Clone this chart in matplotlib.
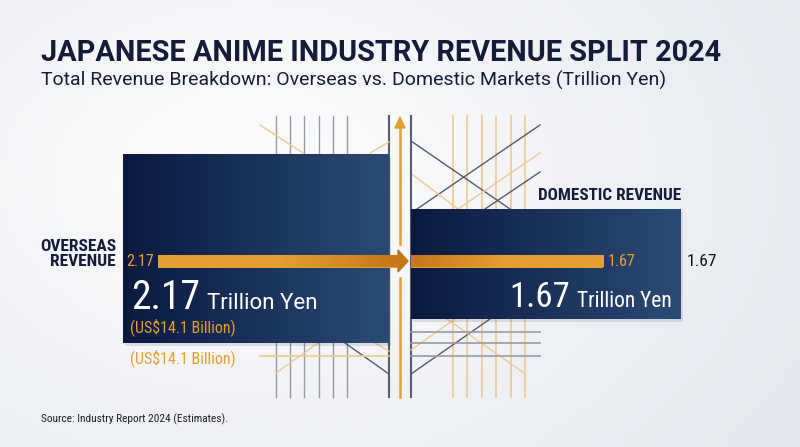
import numpy as np
import matplotlib
matplotlib.use("Agg")
import matplotlib.pyplot as plt
from matplotlib import font_manager
from matplotlib.colors import LinearSegmentedColormap
from matplotlib.patches import Polygon, Rectangle

# --- DATA ---
markets = ["Overseas", "Domestic"]
revenue_tn_yen = [2.17, 1.67]
revenue_usd_label = ["(US$14.1 Billion)", None]
market_labels = ["OVERSEAS\nREVENUE", "DOMESTIC REVENUE"]

TITLE = "JAPANESE ANIME INDUSTRY REVENUE SPLIT 2024"
SUBTITLE = "Total Revenue Breakdown: Overseas vs. Domestic Markets (Trillion Yen)"
SOURCE = "Source: Industry Report 2024 (Estimates)."

# --- STYLE ---
NAVY_TXT = "#141c3a"
ORANGE = "#e5a034"
ORANGE_DK = "#c4771b"
names = {f.name for f in font_manager.fontManager.ttflist}
COND = "Roboto Condensed" if "Roboto Condensed" in names else "Roboto"
BASE = "Roboto"

fig = plt.figure(figsize=(8, 4.47), dpi=100)
ax = fig.add_axes([0, 0, 1, 1])
W, H = 800, 447


def reset():
    ax.set_xlim(0, W)
    ax.set_ylim(H, 0)


# background gradient
yy, xx = np.mgrid[0:H:4, 0:W:4]
glow = np.exp(-(((xx - 250) / 420.0) ** 2 + ((yy - 180) / 300.0) ** 2))
bg_cmap = LinearSegmentedColormap.from_list("bg", ["#e5e9ef", "#fbfbfc"])
ax.imshow(glow, cmap=bg_cmap, extent=(0, W, H, 0), aspect="auto", zorder=0)
reset()

# decorative grid lines behind the panels
GRAY = "#979ba6"
DARK = "#545b70"
LORANGE = "#edca92"
for x in [276, 290, 304, 319, 333, 347]:
    ax.plot([x, x], [116, 397], color=GRAY, lw=1.0, zorder=1)
for x in [453, 467, 482, 496, 511, 525]:
    ax.plot([x, x], [116, 397], color=LORANGE, lw=1.2, zorder=1)
for x in [389, 411]:
    ax.plot([x, x], [116, 397], color=DARK, lw=1.5, zorder=1)

diag = [
    ((260, 125), (303, 153), LORANGE), ((370, 153), (389, 142), LORANGE),
    ((411, 141), (510, 209), DARK), ((417, 209), (540, 125), DARK),
    ((485, 209), (540, 172), DARK), ((413, 175), (458, 209), LORANGE),
    ((458, 209), (540, 153), LORANGE),
    ((276, 373), (318, 343), LORANGE), ((345, 343), (389, 374), DARK),
    ((375, 343), (389, 351), LORANGE),
    ((411, 374), (490, 319), DARK), ((447, 319), (524, 373), LORANGE),
    ((411, 350), (455, 319), LORANGE),
]
for p0, p1, c in diag:
    ax.plot([p0[0], p1[0]], [p0[1], p1[1]], color=c, lw=1.0, zorder=1)
ax.plot([260, 389], [356, 356], color=LORANGE, lw=1.2, zorder=1)
for y in [332, 343, 356]:
    ax.plot([411, 540], [y, y], color=GRAY, lw=1.2, zorder=1)

# vertical orange arrow in the middle
ax.plot([400, 400], [125, 244], color=ORANGE, lw=1.8, zorder=2)
ax.plot([400, 400], [278, 397], color=ORANGE, lw=1.8, zorder=2)
ax.add_patch(Polygon([(395, 128), (405, 128), (400, 117)], color=ORANGE, zorder=2))

# navy panels
navy = LinearSegmentedColormap.from_list("navy", ["#0b1940", "#1a3259", "#2c4b74"])
ramp = np.linspace(0, 1, 256).reshape(1, -1)
for (x0, x1, y0, y1) in [(123, 389, 154, 343), (411, 681, 209, 319)]:
    ax.add_patch(Rectangle((x0 + 2, y0 + 3), x1 - x0, y1 - y0, color="#1a2540",
                           alpha=0.12, lw=0, zorder=2.5))
    ax.imshow(ramp, cmap=navy, extent=(x0, x1, y1, y0), aspect="auto", zorder=3)
reset()

# orange revenue bars (diverging from the centre axis)
PX_PER_TN = 115
BAR_Y, BAR_H = 261, 13
tip = 408
ov, dom = revenue_tn_yen
left_bar = ax.barh(BAR_Y, ov * PX_PER_TN - 10, left=tip - ov * PX_PER_TN,
                   height=BAR_H, color=ORANGE, zorder=4)[0]
right_bar = ax.barh(BAR_Y, dom * PX_PER_TN, left=411, height=BAR_H,
                    color=ORANGE, zorder=4)[0]
og = LinearSegmentedColormap.from_list("og", [ORANGE, ORANGE, ORANGE_DK])
for bar, flip in [(left_bar, False), (right_bar, True)]:
    x0, w = bar.get_x(), bar.get_width()
    im = ax.imshow(ramp[:, ::-1] if flip else ramp, cmap=og,
                   extent=(x0, x0 + w, BAR_Y + BAR_H / 2, BAR_Y - BAR_H / 2),
                   aspect="auto", zorder=5)
    im.set_clip_path(bar)
ax.add_patch(Polygon([(tip - 10, BAR_Y - 11), (tip - 10, BAR_Y + 11), (tip, BAR_Y)],
                     color=ORANGE_DK, zorder=5))
reset()

# bar value labels
ax.text(left_bar.get_x() - 4, BAR_Y, f"{ov:.2f}", color=ORANGE, ha="right",
        va="center", fontsize=11.5, family=COND, zorder=6)
r_end = right_bar.get_x() + right_bar.get_width()
ax.text(r_end + 5, BAR_Y, f"{dom:.2f}", color=ORANGE, ha="left",
        va="center", fontsize=11.5, family=COND, zorder=6)
ax.text(687, BAR_Y, f"{dom:.2f}", color="#111111", ha="left", va="center",
        fontsize=12.5, family=COND, zorder=6)

# market labels
ax.text(116, 254, market_labels[0], ha="right", va="center", fontsize=12.5,
        fontweight="bold", family=COND, color=NAVY_TXT, linespacing=1.0)
ax.text(681, 195, market_labels[1], ha="right", va="center", fontsize=12.3,
        fontweight="bold", family=COND, color=NAVY_TXT)

# headline values inside panels
fig.canvas.draw()
inv = ax.transData.inverted()
big_l = ax.text(131, 309, f"{ov:.2f}", color="white", fontsize=28.5, family=COND,
                ha="left", va="baseline", zorder=6)
fig.canvas.draw()
bx = inv.transform(big_l.get_window_extent().get_points())[1][0]
ax.text(bx + 7, 309, "Trillion Yen", color="white", fontsize=16, family=BASE,
        ha="left", va="baseline", zorder=6)

ty_r = ax.text(672, 307, "Trillion Yen", color="white", fontsize=15.5,
               family=COND, ha="right", va="baseline", zorder=6)
fig.canvas.draw()
tx = inv.transform(ty_r.get_window_extent().get_points())[0][0]
ax.text(tx - 7, 307, f"{dom:.2f}", color="white", fontsize=25, family=COND,
        ha="right", va="baseline", zorder=6)

ax.text(130, 327, revenue_usd_label[0], color=ORANGE, fontsize=11.5, family=COND,
        ha="left", va="center", zorder=6)
ax.text(130, 358, revenue_usd_label[0], color=ORANGE, fontsize=11.5, family=COND,
        ha="left", va="center", zorder=6)

# titles
ax.text(41, 61, TITLE, fontsize=20.8, fontweight="bold", family=BASE,
        color=NAVY_TXT, ha="left", va="baseline")
ax.text(41, 86, SUBTITLE, fontsize=14, family=BASE, color=NAVY_TXT,
        ha="left", va="baseline")
ax.text(41, 419, SOURCE, fontsize=8.2, family=COND, color="#222222",
        ha="left", va="center")

ax.axis("off")
reset()
fig.savefig("out.png", dpi=100)
